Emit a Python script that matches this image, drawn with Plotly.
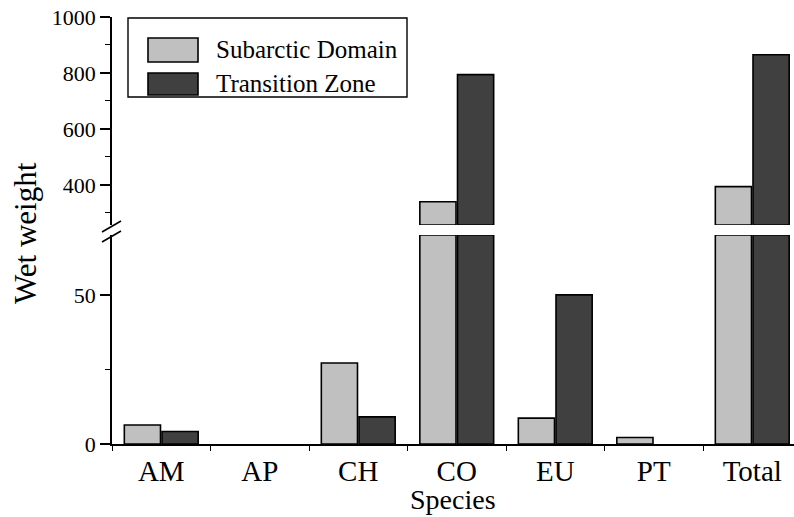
import plotly.graph_objects as go

# ---- data ----
species = ["AM", "AP", "CH", "CO", "EU", "PT", "Total"]
subarctic = [6.4, 0, 27.2, 340, 8.7, 2.2, 394]
transition = [4.2, 0, 9.1, 794, 50.1, 0, 865]
series_names = ["Subarctic Domain", "Transition Zone"]
series_colors = ["#c0c0c0", "#404040"]
lower_tickvals = [0, 50]
upper_tickvals = [400, 600, 800, 1000]

# broken axis limits
LOW_MAX = 70.2
UP_MIN = 257
UP_MAX = 1000

FONT = "Liberation Serif, Times New Roman, serif"

fig = go.Figure()
for name, vals, col, og in zip(series_names, [subarctic, transition], series_colors, ["a", "b"]):
    low = [min(v, LOW_MAX) if v > 0 else None for v in vals]
    up = [(v - UP_MIN) if v > UP_MIN else None for v in vals]
    fig.add_trace(go.Bar(
        x=species, y=low, name=name, offsetgroup=og,
        marker=dict(color=col, line=dict(color="black", width=1.6)),
        customdata=vals, hovertemplate="%{x}: %{customdata}<extra>" + name + "</extra>",
        showlegend=False, xaxis="x", yaxis="y"))
    fig.add_trace(go.Bar(
        x=species, y=up, base=UP_MIN, name=name, offsetgroup=og,
        marker=dict(color=col, line=dict(color="black", width=1.6)),
        customdata=vals, hovertemplate="%{x}: %{customdata}<extra>" + name + "</extra>",
        showlegend=False, xaxis="x", yaxis="y2"))

W, H = 794, 517
ML, MR, MT, MB = 112, 0, 17, 73
PW, PH = W - ML - MR, H - MT - MB


def px_x(px):
    return (px - ML) / PW


def px_y(py):
    return (H - MB - py) / PH


ax_common = dict(showline=True, linecolor="black", linewidth=1.6, showgrid=False, zeroline=False,
                 ticks="outside", ticklen=10, tickwidth=1.6, tickcolor="black",
                 tickfont=dict(family=FONT, size=22, color="black"))

fig.update_layout(
    width=W, height=H,
    margin=dict(l=ML, r=MR, t=MT, b=MB),
    paper_bgcolor="white", plot_bgcolor="white",
    barmode="group", bargap=0.235, bargroupgap=0.04,
    font=dict(family=FONT, color="black"),
    xaxis=dict(type="category", range=[-0.5, -0.5 + PW / 98.5], anchor="y",
               showline=True, linecolor="black", linewidth=1.6, showgrid=False, zeroline=False,
               ticks="outside", ticklen=5, tickwidth=1.4, tickcolor="black", tickson="boundaries",
               tickfont=dict(family=FONT, size=29, color="black")),
    yaxis=dict(domain=[0, px_y(235)], range=[0, LOW_MAX], tickmode="array", tickvals=lower_tickvals,
               minor=dict(ticks="outside", ticklen=5, tickwidth=1.4, tickcolor="black", dtick=25, tick0=0),
               **ax_common),
    yaxis2=dict(domain=[px_y(225), 1], range=[UP_MIN, UP_MAX], anchor="x", tickmode="array",
                tickvals=upper_tickvals,
                minor=dict(ticks="outside", ticklen=5, tickwidth=1.4, tickcolor="black", dtick=100, tick0=0),
                **ax_common),
)

shapes = []
# axis break marks
for off in (0, 10):
    shapes.append(dict(type="line", xref="paper", yref="paper",
                       x0=px_x(102), y0=px_y(232 + off), x1=px_x(121), y1=px_y(221 + off),
                       line=dict(color="black", width=1.6)))
# legend box
shapes.append(dict(type="rect", xref="paper", yref="paper",
                   x0=px_x(128), x1=px_x(407), y0=px_y(97), y1=px_y(18),
                   line=dict(color="black", width=1.4), fillcolor="white"))
legend_rows = [(38, 62), (73, 95)]
annotations = []
for (t, b), name, col in zip(legend_rows, series_names, series_colors):
    shapes.append(dict(type="rect", xref="paper", yref="paper",
                       x0=px_x(148), x1=px_x(198), y0=px_y(b), y1=px_y(t),
                       line=dict(color="black", width=1.6), fillcolor=col))
    annotations.append(dict(text=name, xref="paper", yref="paper", x=px_x(214), y=px_y((t + b) / 2),
                            xanchor="left", yanchor="middle", showarrow=False,
                            font=dict(family=FONT, size=25, color="black")))

annotations.append(dict(text="Species", xref="paper", yref="paper", x=0.5, y=px_y(517),
                        xanchor="center", yanchor="bottom", showarrow=False,
                        font=dict(family=FONT, size=28, color="black")))
annotations.append(dict(text="Wet weight", xref="paper", yref="paper", x=px_x(25), y=px_y(233),
                        xanchor="center", yanchor="middle", textangle=-90, showarrow=False,
                        font=dict(family=FONT, size=31, color="black")))

fig.update_layout(shapes=shapes, annotations=annotations)

fig.write_html("out.html", config={"displayModeBar": False},
               post_script="document.body.style.margin='0';document.body.style.overflow='hidden';")
